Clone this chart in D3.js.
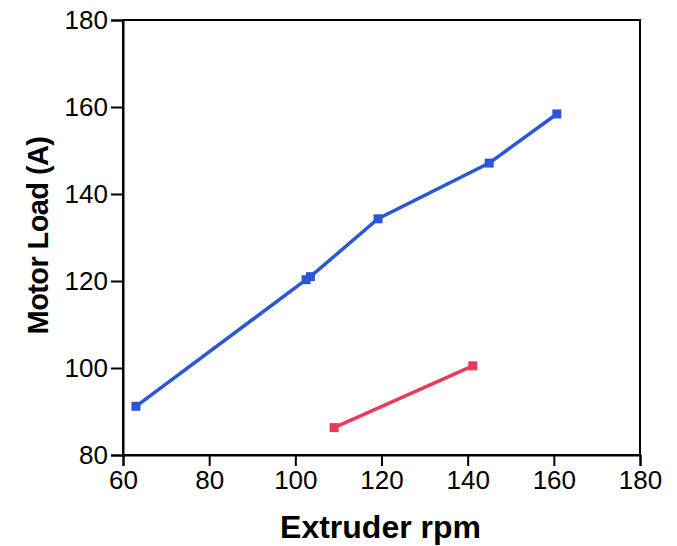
<!DOCTYPE html>
<html>
<head>
<meta charset="utf-8">
<script src="https://cdn.jsdelivr.net/npm/d3@7"></script>
<style>
  html, body { margin: 0; padding: 0; background: #fff; }
  svg { display: block; }
</style>
</head>
<body>
<svg id="chart" width="677" height="546"></svg>
<script>
// Motor load versus extruder speed, two operating series
const blueRpm  = [63.0, 102.5, 103.5, 119.2, 145.0, 160.7];
const blueLoad = [91.2, 120.3, 121.0, 134.3, 147.1, 158.4];
const redRpm   = [109.0, 141.2];
const redLoad  = [86.3, 100.5];

const xTicks = [60, 80, 100, 120, 140, 160, 180];
const yTicks = [80, 100, 120, 140, 160, 180];

const xTitle = "Extruder rpm";
const yTitle = "Motor Load (A)";

const svg = d3.select("#chart");
const plot = { left: 123, right: 640, top: 20, bottom: 455 };

const x = d3.scaleLinear().domain([60, 180]).range([plot.left, plot.right]);
const y = d3.scaleLinear().domain([80, 180]).range([plot.bottom, plot.top]);

const tickFont = "'Liberation Sans', Arial, sans-serif";

// frame
svg.append("rect")
  .attr("x", plot.left).attr("y", plot.top)
  .attr("width", plot.right - plot.left).attr("height", plot.bottom - plot.top)
  .attr("fill", "none").attr("stroke", "#000").attr("stroke-width", 2);

const xAxis = svg.append("g")
  .attr("transform", `translate(0,${plot.bottom})`)
  .call(d3.axisBottom(x).tickValues(xTicks).tickSize(11).tickPadding(5).tickFormat(d3.format("d")));
const yAxis = svg.append("g")
  .attr("transform", `translate(${plot.left},0)`)
  .call(d3.axisLeft(y).tickValues(yTicks).tickSize(12).tickPadding(3).tickFormat(d3.format("d")));

[xAxis, yAxis].forEach(g => {
  g.select(".domain").attr("stroke", "#000").attr("stroke-width", 2);
  g.selectAll(".tick line").attr("stroke", "#000").attr("stroke-width", 2);
  g.selectAll(".tick text")
    .attr("fill", "#000")
    .style("font-family", tickFont)
    .style("font-size", "26px");
});

// axis titles
svg.append("text")
  .attr("x", (plot.left + plot.right) / 2 - 1)
  .attr("y", 538)
  .attr("text-anchor", "middle")
  .style("font-family", tickFont)
  .style("font-weight", "bold")
  .style("font-size", "32px")
  .text(xTitle);

svg.append("text")
  .attr("transform", `translate(48,${(plot.top + plot.bottom) / 2 - 2}) rotate(-90)`)
  .attr("text-anchor", "middle")
  .style("font-family", tickFont)
  .style("font-weight", "bold")
  .style("font-size", "29px")
  .style("letter-spacing", "-0.6px")
  .text(yTitle);

const line = d3.line().x(d => x(d[0])).y(d => y(d[1]));

function drawSeries(xs, ys, color) {
  const pts = xs.map((v, i) => [v, ys[i]]);
  svg.append("path")
    .datum(pts)
    .attr("d", line)
    .attr("fill", "none")
    .attr("stroke", color)
    .attr("stroke-width", 3.5);
  const s = 9;
  svg.append("g").selectAll("rect")
    .data(pts)
    .join("rect")
    .attr("x", d => x(d[0]) - s / 2)
    .attr("y", d => y(d[1]) - s / 2)
    .attr("width", s).attr("height", s)
    .attr("fill", color);
}

drawSeries(blueRpm, blueLoad, "#2b57d6");
drawSeries(redRpm, redLoad, "#ea3a5c");
</script>
</body>
</html>
